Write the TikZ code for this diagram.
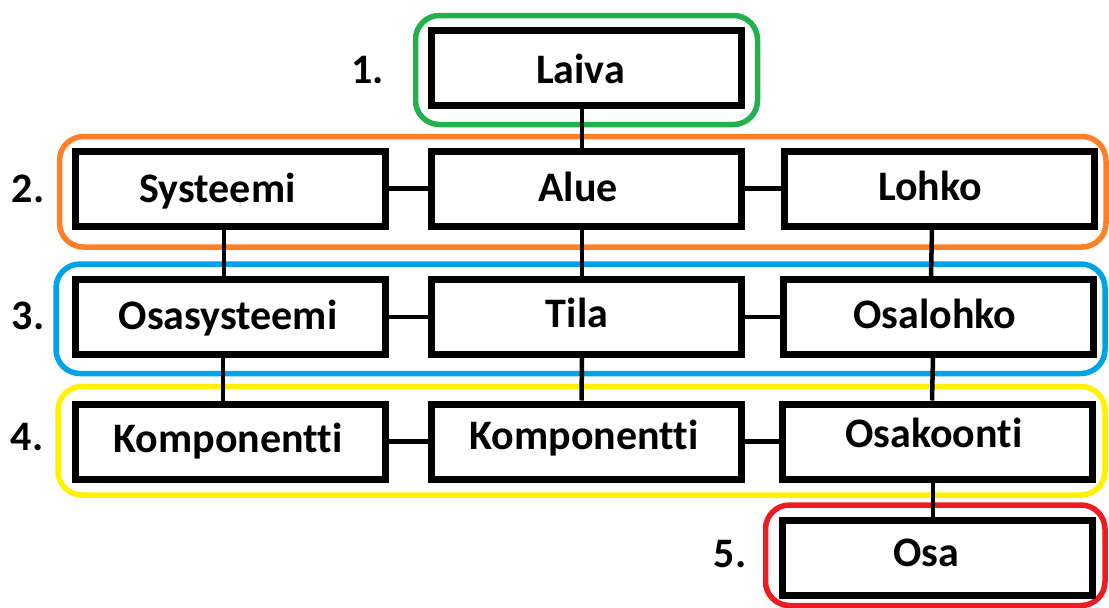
\documentclass[tikz,border=0pt]{standalone}
\usepackage{fontspec}
\setmainfont{Carlito}[Ligatures={NoCommon}]
\definecolor{gGreen}{RGB}{34,177,76}
\definecolor{gOrange}{RGB}{255,127,39}
\definecolor{gBlue}{RGB}{0,162,232}
\definecolor{gYellow}{RGB}{255,242,0}
\definecolor{gRed}{RGB}{237,28,36}
\begin{document}
\begin{tikzpicture}[x=1pt,y=-1pt,
  txt/.style={inner sep=0pt, text height=27pt, text depth=0pt,
    font=\fontsize{42}{46}\selectfont\bfseries},
  box/.style={draw=black, line width=7pt, fill=white, minimum width=310pt,
    minimum height=75pt, inner sep=0pt},
  % caption of a box, shifted by (dx,dy)
  cap/.style n args={3}{label={[txt, xshift=#1pt, yshift=#2pt]center:#3}},
  group/.style={draw=#1, line width=5.5pt, rounded corners=24pt, inner sep=0pt},
  link/.style={draw=black, line width=4.5pt},
  lvl/.style={txt}]
\useasboundingbox (0,0) rectangle (1109,608);

% level frames
\node[group=gGreen,  minimum width=342pt,    minimum height=109pt]   (g1) at (586.5,70) {};
\node[group=gOrange, minimum width=1046.5pt, minimum height=110.5pt] (g2) at (582.75,191.75) {};
\node[group=gBlue,   minimum width=1049pt,   minimum height=109.5pt] (g3) at (580.5,318.75) {};
\node[group=gYellow, minimum width=1047pt,   minimum height=108.5pt] (g4) at (581.5,440.75) {};
\node[group=gRed,    minimum width=339.5pt,  minimum height=100.5pt] (g5) at (935.25,555.25) {};

% level numbers
\node[lvl] (n1) at (367.5,69.5) {1.};
\node[lvl] (n2) at (28,188.5)   {2.};
\node[lvl] (n3) at (28,316)     {3.};
\node[lvl] (n4) at (27,436.5)   {4.};
\node[lvl] (n5) at (730,553.5)  {5.};

% entries
\node[box, cap={-6}{-1.5}{Laiva}]          (laiva)     at (586.5,68)    {};
\node[box, cap={-12.5}{0}{Systeemi}]       (sys)       at (230,188.5)   {};
\node[box, cap={-8.5}{1}{Alue}]            (alue)      at (586.5,188.5) {};
\node[box, cap={-9}{1.5}{Lohko}]           (lohko)     at (939,188.5)   {};
\node[box, cap={-2}{1.5}{Osasysteemi}]     (osasys)    at (230,317)     {};
\node[box, cap={-9.5}{3.5}{Tila}]          (tila)      at (586.5,317)   {};
\node[box, cap={-3}{2}{Osalohko}]          (osalohko)  at (938,317)     {};
\node[box, cap={-2}{3}{Komponentti}]       (komp1)     at (230,441.5)   {};
\node[box, cap={-2}{6}{Komponentti}]       (komp2)     at (586,441.5)   {};
\node[box, cap={-3}{8}{Osakoonti}]         (osakoonti) at (937,441.5)   {};
\node[box, cap={-10.5}{5}{Osa}]            (osa)       at (937,557.5)   {};

% vertical links
\draw[link] ([xshift=-4.5pt]laiva.south) -- ([xshift=-4.5pt]alue.north);
\draw[link] ([xshift=-6pt]sys.south) -- ([xshift=-6pt]osasys.north);
\draw[link] ([xshift=-4.5pt]alue.south) -- ([xshift=-4.5pt]tila.north);
\draw[link] ([xshift=-7pt]lohko.south) -- ([xshift=-7pt]osalohko.north);
\draw[link] ([xshift=-7pt]osasys.south) -- ([xshift=-7pt]komp1.north);
\draw[link] ([xshift=-4.5pt]tila.south) -- ([xshift=-4.5pt]komp2.north);
\draw[link] ([xshift=-5pt]osalohko.south) -- ([xshift=-5pt]osakoonti.north);
\draw[link] ([xshift=-4pt]osakoonti.south) -- ([xshift=-4pt]osa.north);

% horizontal links
\draw[link] (sys.east) -- (alue.west);
\draw[link] (alue.east) -- (lohko.west);
\draw[link] (osasys.east) -- (tila.west);
\draw[link] (tila.east) -- (osalohko.west);
\draw[link] (komp1.east) -- (komp2.west);
\draw[link] (komp2.east) -- (osakoonti.west);
\end{tikzpicture}
\end{document}
